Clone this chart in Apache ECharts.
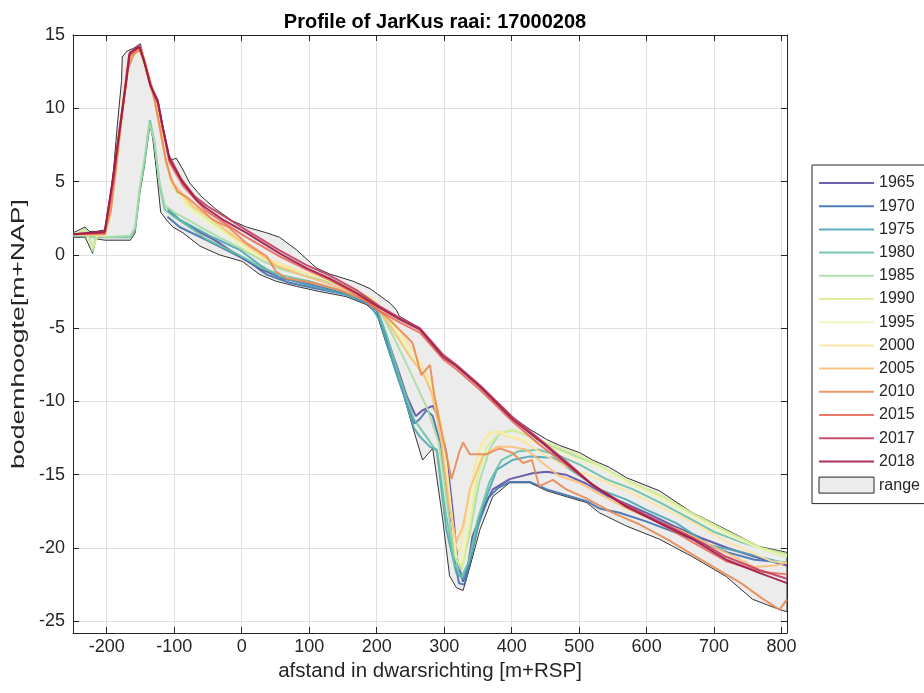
<!DOCTYPE html>
<html><head><meta charset="utf-8">
<script src="https://cdn.jsdelivr.net/npm/echarts@6/dist/echarts.min.js"></script>
<style>html,body{margin:0;padding:0;background:#fff}#c{width:924px;height:693px}</style>
</head><body><div id="c"></div>
<script>
const years = ['1965','1970','1975','1980','1985','1990','1995','2000','2005','2010','2015','2017','2018'];

const p1965 = [[-110,3.0],[-90,2.3],[-60,1.5],[-40,1.0],[0,-0.2],[30,-1.0],[60,-1.6],[100,-2.0],[150,-2.6],[185,-3.2],[200,-3.7],[210,-5.0],[230,-7.6],[245,-9.7],[258,-11.0],[268,-10.6],[283,-10.3],[293,-11.2],[303,-13.5],[313,-17.6],[320,-21.0],[328,-22.3],[335,-21.3],[342,-19.2],[357,-17.4],[372,-16.0],[397,-15.3],[431,-14.9],[452,-14.8],[480,-15.0],[510,-15.6],[540,-16.4],[570,-17.0],[600,-17.6],[640,-18.5],[680,-19.3],[720,-20.0],[760,-20.6],[808,-21.2]];
const p1970 = [[-110,2.6],[-92,1.9],[-43,0.8],[7,-0.35],[37,-1.35],[71,-1.9],[105,-2.25],[155,-2.7],[185,-3.3],[200,-3.8],[215,-6.0],[230,-8.2],[245,-10.2],[256,-11.5],[264,-11.2],[274,-10.6],[283,-11.0],[295,-13.0],[305,-16.5],[314,-20.5],[322,-22.4],[330,-22.5],[338,-21.0],[350,-18.5],[365,-16.6],[380,-15.9],[397,-15.5],[427,-15.5],[452,-16.0],[481,-16.4],[511,-16.8],[530,-17.3],[560,-17.6],[600,-18.2],[640,-18.9],[680,-19.6],[720,-20.3],[760,-20.8],[808,-21.0]];
const p1975 = [[-110,3.2],[-92,2.4],[-43,1.2],[-3,0.35],[27,-0.7],[56,-1.5],[86,-1.9],[120,-2.3],[160,-2.8],[190,-3.4],[205,-4.5],[220,-6.8],[240,-9.5],[255,-11.8],[264,-12.4],[279,-13.1],[289,-13.3],[303,-18.7],[318,-21.7],[328,-22.1],[341,-20.3],[357,-17.2],[378,-14.65],[401,-14.0],[427,-13.75],[461,-13.85],[486,-14.6],[530,-16.0],[570,-16.7],[600,-17.4],[644,-18.3],[693,-19.8],[742,-20.3],[793,-20.9],[808,-21.0]];
const p1980 = [[-250,1.3],[-205,1.2],[-165,1.2],[-158,1.7],[-151,4.4],[-144,6.3],[-136,9.2],[-129,7.6],[-121,4.6],[-114,3.1],[-100,2.6],[-87,2.2],[-53,1.1],[0,-0.1],[30,-0.9],[60,-1.4],[100,-1.8],[150,-2.5],[185,-3.1],[200,-3.6],[215,-5.5],[235,-8.5],[255,-11.2],[275,-12.5],[290,-13.5],[302,-17.5],[315,-21.0],[325,-22.0],[336,-21.0],[350,-18.0],[367,-15.5],[385,-14.0],[410,-13.4],[440,-13.3],[470,-13.7],[500,-14.3],[540,-15.3],[580,-16.0],[620,-16.9],[660,-17.9],[700,-18.9],[740,-19.6],[780,-20.2],[808,-20.6]];
const p1985 = [[-250,1.4],[-240,1.4],[-232,1.8],[-226,1.2],[-221,0.2],[-216,1.5],[-210,1.4],[-203,1.2],[-165,1.3],[-158,1.9],[-151,4.6],[-144,6.6],[-137,9.0],[-130,7.9],[-122,5.0],[-114,3.4],[-100,2.9],[-80,2.4],[-50,1.6],[0,0.4],[30,-0.4],[60,-1.0],[100,-1.5],[150,-2.1],[185,-2.8],[205,-3.8],[225,-5.6],[250,-8.0],[275,-10.5],[292,-12.8],[303,-16.5],[315,-20.5],[325,-21.5],[338,-19.0],[352,-15.5],[368,-13.2],[382,-12.2],[401,-11.95],[427,-12.4],[461,-13.1],[496,-13.75],[530,-14.4],[570,-15.4],[620,-16.4],[670,-17.7],[720,-18.9],[770,-20.0],[808,-20.4]];
const p1990 = [[-250,1.4],[-232,1.7],[-221,0.4],[-212,1.5],[-203,1.3],[-195,2.6],[-188,5.2],[-180,8.2],[-172,11.3],[-166,13.3],[-152,14.0],[-145,13.0],[-135,11.4],[-128,10.4],[-120,8.3],[-112,6.2],[-102,4.6],[-80,3.4],[-50,2.4],[-20,1.4],[7,0.35],[56,-0.8],[105,-1.35],[155,-2.2],[185,-2.85],[224,-4.9],[253,-6.95],[283,-9.0],[298,-12.0],[308,-16.5],[318,-20.8],[327,-21.3],[338,-18.5],[350,-15.0],[363,-13.1],[382,-12.15],[401,-11.95],[427,-12.4],[461,-13.0],[496,-13.6],[530,-14.4],[570,-15.4],[620,-16.4],[670,-17.7],[720,-18.9],[770,-20.0],[808,-20.5]];
const p1995 = [[-250,1.4],[-203,1.3],[-195,2.7],[-188,5.4],[-180,8.4],[-172,11.5],[-165,13.5],[-152,14.1],[-145,13.1],[-135,11.5],[-128,10.5],[-120,8.5],[-112,6.4],[-102,4.8],[-80,3.2],[-50,2.2],[-20,1.3],[10,0.3],[50,-0.6],[100,-1.3],[150,-2.0],[190,-2.9],[220,-4.5],[250,-6.7],[280,-8.8],[296,-11.5],[307,-16.0],[318,-20.5],[326,-21.0],[337,-18.0],[348,-14.5],[360,-12.8],[372,-12.1],[385,-12.1],[400,-12.4],[420,-12.6],[450,-13.0],[490,-13.8],[530,-14.5],[570,-15.5],[620,-16.6],[670,-17.9],[720,-19.1],[770,-20.1],[808,-20.6]];
const p2000 = [[-250,1.4],[-203,1.3],[-194,3.0],[-186,6.0],[-178,9.4],[-170,12.6],[-162,13.7],[-151,14.1],[-144,13.1],[-135,11.6],[-129,10.6],[-121,8.6],[-113,6.5],[-103,5.0],[-80,3.6],[-50,2.6],[-20,1.6],[7,0.6],[40,-0.3],[80,-1.0],[120,-1.6],[160,-2.3],[195,-3.0],[225,-4.6],[255,-6.6],[280,-8.6],[295,-11.5],[305,-15.5],[315,-19.5],[323,-20.3],[333,-17.5],[345,-14.5],[353,-13.1],[367,-12.15],[378,-12.05],[392,-12.4],[412,-12.6],[440,-13.4],[470,-14.2],[500,-14.8],[540,-15.5],[580,-16.3],[620,-17.2],[670,-18.3],[720,-19.6],[760,-20.4],[785,-20.9],[808,-21.0]];
const p2005 = [[-250,1.4],[-203,1.4],[-194,3.1],[-186,6.2],[-178,9.6],[-170,12.8],[-160,13.9],[-150,14.2],[-143,13.2],[-135,11.8],[-129,10.6],[-120,8.4],[-112,6.3],[-102,4.9],[-85,4.0],[-72,3.3],[-43,2.4],[-10,1.2],[20,0.3],[50,-0.7],[90,-1.4],[130,-2.0],[170,-2.7],[200,-3.5],[225,-5.2],[250,-7.0],[270,-8.2],[282,-9.5],[295,-12.5],[307,-17.0],[318,-19.6],[328,-18.5],[338,-16.0],[357,-13.75],[378,-13.1],[401,-13.1],[422,-13.3],[446,-14.2],[471,-15.1],[501,-15.55],[530,-16.3],[570,-17.3],[610,-18.1],[650,-18.8],[690,-19.7],[730,-20.6],[760,-21.3],[790,-21.2],[808,-21.0]];
const p2010 = [[-250,1.4],[-203,1.4],[-194,3.0],[-186,6.0],[-178,9.3],[-170,12.5],[-160,13.7],[-150,14.0],[-143,13.0],[-135,11.7],[-129,10.5],[-121,8.6],[-113,6.6],[-105,5.2],[-95,4.3],[-80,3.9],[-60,3.1],[-43,2.4],[-20,1.9],[7,0.8],[37,-0.1],[51,-1.15],[66,-1.6],[105,-1.9],[145,-2.4],[180,-3.05],[214,-4.2],[253,-6.0],[266,-8.2],[279,-7.5],[285,-9.5],[298,-12.5],[311,-15.3],[322,-13.5],[328,-12.8],[338,-13.6],[363,-13.6],[382,-13.2],[401,-13.5],[417,-14.2],[430,-14.0],[441,-15.8],[461,-15.35],[481,-16.0],[510,-16.6],[550,-17.6],[590,-18.4],[630,-19.4],[670,-20.5],[710,-21.6],[740,-22.4],[770,-23.4],[797,-24.2],[808,-23.5]];
const p2015 = [[-250,1.4],[-203,1.5],[-195,3.5],[-190,5.0],[-181,8.4],[-171,11.8],[-166,13.6],[-152,14.1],[-144,13.1],[-135,11.5],[-124,10.3],[-117,8.6],[-107,6.3],[-87,4.7],[-53,3.0],[0,1.4],[56,-0.1],[96,-1.0],[130,-1.7],[170,-2.7],[204,-3.8],[234,-4.6],[264,-5.3],[298,-7.1],[318,-7.8],[353,-9.2],[402,-11.4],[440,-12.9],[486,-14.5],[530,-16.0],[570,-17.1],[619,-18.3],[668,-19.6],[718,-20.9],[767,-21.6],[808,-21.8]];
const p2017 = [[-250,1.4],[-203,1.5],[-192,4.8],[-182,8.2],[-172,11.6],[-167,13.6],[-153,14.3],[-145,13.3],[-136,11.7],[-125,10.6],[-118,8.9],[-108,6.8],[-90,5.2],[-70,4.0],[-50,3.3],[-25,2.6],[10,1.6],[56,0.3],[96,-0.7],[130,-1.4],[170,-2.4],[204,-3.5],[234,-4.3],[264,-5.0],[298,-6.8],[318,-7.5],[353,-8.9],[402,-11.1],[450,-12.9],[486,-14.3],[520,-15.7],[570,-17.1],[619,-18.2],[668,-19.3],[718,-20.6],[767,-21.5],[808,-22.1]];
const p2018 = [[-250,1.4],[-203,1.6],[-191,5.1],[-181,8.5],[-171,11.9],[-166,13.8],[-151,14.2],[-144,13.1],[-135,11.5],[-124,10.4],[-117,8.7],[-107,6.5],[-87,4.9],[-67,3.75],[-53,3.2],[-28,2.4],[7,1.5],[56,0.1],[96,-0.9],[130,-1.6],[170,-2.6],[204,-3.6],[234,-4.4],[264,-5.1],[298,-6.95],[318,-7.6],[353,-9.0],[402,-11.25],[450,-13.0],[486,-14.4],[520,-15.7],[570,-17.2],[619,-18.3],[668,-19.4],[718,-20.8],[767,-21.7],[808,-22.4]];

const rangeTop = [[-250,1.5],[-232,1.9],[-226,1.6],[-216,1.6],[-203,1.7],[-196,3.5],[-190,5.8],[-184,9.0],[-178,11.9],[-177,13.5],[-170,13.9],[-160,14.1],[-150,14.4],[-144,13.3],[-135,11.6],[-124,10.5],[-117,8.8],[-107,6.6],[-102,6.5],[-97,6.6],[-87,5.8],[-77,4.9],[-60,4.0],[-38,3.1],[-13,2.3],[7,1.9],[37,1.5],[56,1.2],[81,0.35],[100,-0.45],[111,-0.9],[130,-1.3],[165,-1.8],[190,-2.3],[205,-2.8],[220,-3.3],[229,-3.75],[234,-4.2],[264,-5.0],[298,-6.8],[318,-7.5],[353,-8.9],[402,-11.1],[427,-11.9],[452,-12.6],[471,-13.0],[501,-13.5],[520,-14.0],[545,-14.5],[570,-15.2],[619,-16.1],[668,-17.6],[718,-18.75],[767,-19.9],[808,-20.3]];
const rangeBottom = [[-250,1.2],[-232,1.2],[-221,0.1],[-216,1.1],[-203,1.0],[-165,1.0],[-158,1.5],[-151,4.2],[-144,6.1],[-136,8.9],[-132,8.0],[-127,6.0],[-120,2.9],[-110,2.3],[-102,1.9],[-87,1.5],[-62,0.6],[-33,0.0],[1,-0.45],[27,-1.35],[51,-1.8],[81,-2.15],[115,-2.5],[155,-2.85],[185,-3.4],[200,-4.0],[215,-6.2],[234,-8.6],[253,-11.7],[268,-14.0],[283,-13.2],[298,-18.1],[308,-21.9],[318,-22.7],[328,-22.9],[338,-21.3],[353,-18.75],[372,-16.5],[397,-15.55],[427,-15.55],[452,-16.1],[481,-16.5],[511,-16.9],[530,-17.6],[570,-18.5],[619,-19.4],[668,-20.6],[718,-21.95],[757,-23.5],[797,-24.2],[808,-24.35]];

const xTicks = [-200,-100,0,100,200,300,400,500,600,700,800];
const yTicks = [-25,-20,-15,-10,-5,0,5,10,15];

const colors = ['#5e4fa2','#3f6fae','#4aa6b5','#68c2a3','#a8dba4','#d9ef8f','#eef5b6','#fde4a0','#fdbf75','#e88b57','#ea6a5a','#c33d5e','#9e1a4a'];
const profiles = [p1965,p1970,p1975,p1980,p1985,p1990,p1995,p2000,p2005,p2010,p2015,p2017,p2018];

const font = '"Liberation Sans", Arial, Helvetica, sans-serif';
const axisColor = '#262626';
const chart = echarts.init(document.getElementById('c'));

function baseAxis(extra) {
  return Object.assign({
    type: 'value',
    axisLine: {show: true, onZero: false, lineStyle: {color: axisColor, width: 1}},
    axisTick: {show: true, inside: true, length: 6, lineStyle: {color: axisColor}},
    axisLabel: {show: false},
    splitLine: {show: false}
  }, extra);
}

const lineSeries = years.map((y, i) => ({
  name: y,
  type: 'line',
  data: profiles[i],
  symbol: 'none',
  clip: true,
  z: 3,
  lineStyle: {color: colors[i], width: 2, opacity: 0.9},
  itemStyle: {color: colors[i]}
}));

const rangeSeries = {
  name: 'range',
  type: 'custom',
  coordinateSystem: 'cartesian2d',
  clip: true,
  z: 2,
  data: [[0, 0]],
  itemStyle: {color: '#ececec', borderColor: axisColor, borderWidth: 1},
  renderItem: function (params, api) {
    const pts = rangeTop.map(p => api.coord(p))
      .concat(rangeBottom.slice().reverse().map(p => api.coord(p)));
    return {
      type: 'polygon',
      shape: {points: pts},
      style: {fill: '#ececec', stroke: '#333333', lineWidth: 1}
    };
  }
};

const option = {
  animation: false,
  backgroundColor: '#fff',
  title: {
    text: 'Profile of JarKus raai: 17000208',
    left: 430, top: 7, textAlign: 'center',
    textStyle: {fontFamily: font, fontSize: 20, fontWeight: 'bold', color: '#000'}
  },
  graphic: [{
    type: 'text',
    x: 19, y: 334,
    rotation: Math.PI / 2,
    scaleX: 1.4,
    style: {
      text: 'bodemhoogte[m+NAP]',
      fontFamily: font, fontSize: 19, fill: axisColor,
      textAlign: 'center', textVerticalAlign: 'middle'
    }
  }],
  grid: {left: 73, right: 137, top: 35, bottom: 60, containLabel: false},
  legend: {
    orient: 'vertical', left: 812, top: 165,
    itemWidth: 55, itemHeight: 16, itemGap: 7.2,
    padding: [10, 30, 10, 6],
    borderColor: axisColor, borderWidth: 1, backgroundColor: '#fff',
    textStyle: {fontFamily: font, fontSize: 16, color: axisColor},
    data: years.map(y => ({name: y, itemStyle: {opacity: 0}})).concat([{name: 'range', icon: 'rect', itemStyle: {color: '#ececec', borderColor: axisColor, borderWidth: 1, opacity: 1}}])
  },
  xAxis: [
    baseAxis({
      min: -250, max: 808, position: 'bottom',
      axisTick: {show: true, inside: true, length: 6, customValues: xTicks, lineStyle: {color: axisColor}},
      axisLabel: {show: true, customValues: xTicks, fontFamily: font, fontSize: 18, color: axisColor, margin: 5},
      splitLine: {show: true, lineStyle: {color: '#e0e0e0', width: 1}},
      name: 'afstand in dwarsrichting [m+RSP]', nameLocation: 'middle', nameGap: 28,
      nameTextStyle: {fontFamily: font, fontSize: 20.5, color: axisColor}
    }),
    baseAxis({
      min: -250, max: 808, position: 'top',
      axisTick: {show: true, inside: true, length: 6, customValues: xTicks, lineStyle: {color: axisColor}}
    })
  ],
  yAxis: [
    baseAxis({
      min: -25.8, max: 15, position: 'left',
      axisTick: {show: true, inside: true, length: 6, customValues: yTicks, lineStyle: {color: axisColor}},
      axisLabel: {show: true, customValues: yTicks, fontFamily: font, fontSize: 18, color: axisColor, margin: 8},
      splitLine: {show: true, lineStyle: {color: '#e0e0e0', width: 1}}
    }),
    baseAxis({
      min: -25.8, max: 15, position: 'right',
      axisTick: {show: true, inside: true, length: 6, customValues: yTicks, lineStyle: {color: axisColor}}
    })
  ],
  series: [rangeSeries].concat(lineSeries)
};
chart.setOption(option);
</script>
</body></html>
